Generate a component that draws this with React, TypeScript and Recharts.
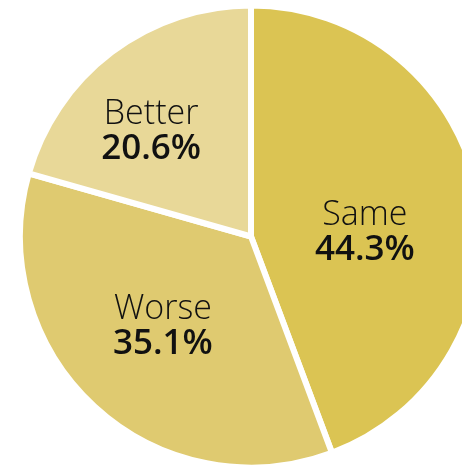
import React from "react";
import { PieChart, Pie, Cell } from "recharts";

const categories = ["Same", "Worse", "Better"];
const values = [44.3, 35.1, 20.6];
const percentLabels = ["44.3%", "35.1%", "20.6%"];
const colors = ["#DBC453", "#DFCA70", "#E8D898"];
// label placement tweaks (angle offset in degrees, radius fraction)
const labelAngleShift = [-7, -2.5, 5.7];
const labelRadiusFrac = [0.5, 0.545, 0.645];

const data = categories.map((name, i) => ({ name, value: values[i] }));

const RAD = Math.PI / 180;

const renderLabel = (props: any) => {
  const { cx, cy, midAngle, outerRadius, index } = props;
  const r = (outerRadius - 3) * labelRadiusFrac[index];
  const a = (midAngle + labelAngleShift[index]) * RAD;
  const x = cx + r * Math.cos(a);
  const y = cy - r * Math.sin(a);
  return (
    <g style={{ fontFamily: "'Open Sans', sans-serif" }}>
      <text x={x} y={y - 5} textAnchor="middle" fill="#111" fontSize={34} fontWeight={300}>
        {categories[index]}
      </text>
      <text x={x} y={y + 30} textAnchor="middle" fill="#111" fontSize={35} fontWeight={600}>
        {percentLabels[index]}
      </text>
    </g>
  );
};

export default function App() {
  return (
    <div style={{ position: "fixed", left: 0, top: 0 }}>
      <PieChart width={462} height={465} margin={{ top: 0, right: 0, bottom: 0, left: 0 }}>
        <Pie
          data={data}
          dataKey="value"
          nameKey="name"
          cx={251}
          cy={236.5}
          outerRadius={231}
          innerRadius={0}
          startAngle={90}
          endAngle={-270}
          stroke="#ffffff"
          strokeWidth={6}
          label={renderLabel}
          labelLine={false}
          isAnimationActive={false}
        >
          {data.map((d, i) => (
            <Cell key={d.name} fill={colors[i]} />
          ))}
        </Pie>
      </PieChart>
    </div>
  );
}
